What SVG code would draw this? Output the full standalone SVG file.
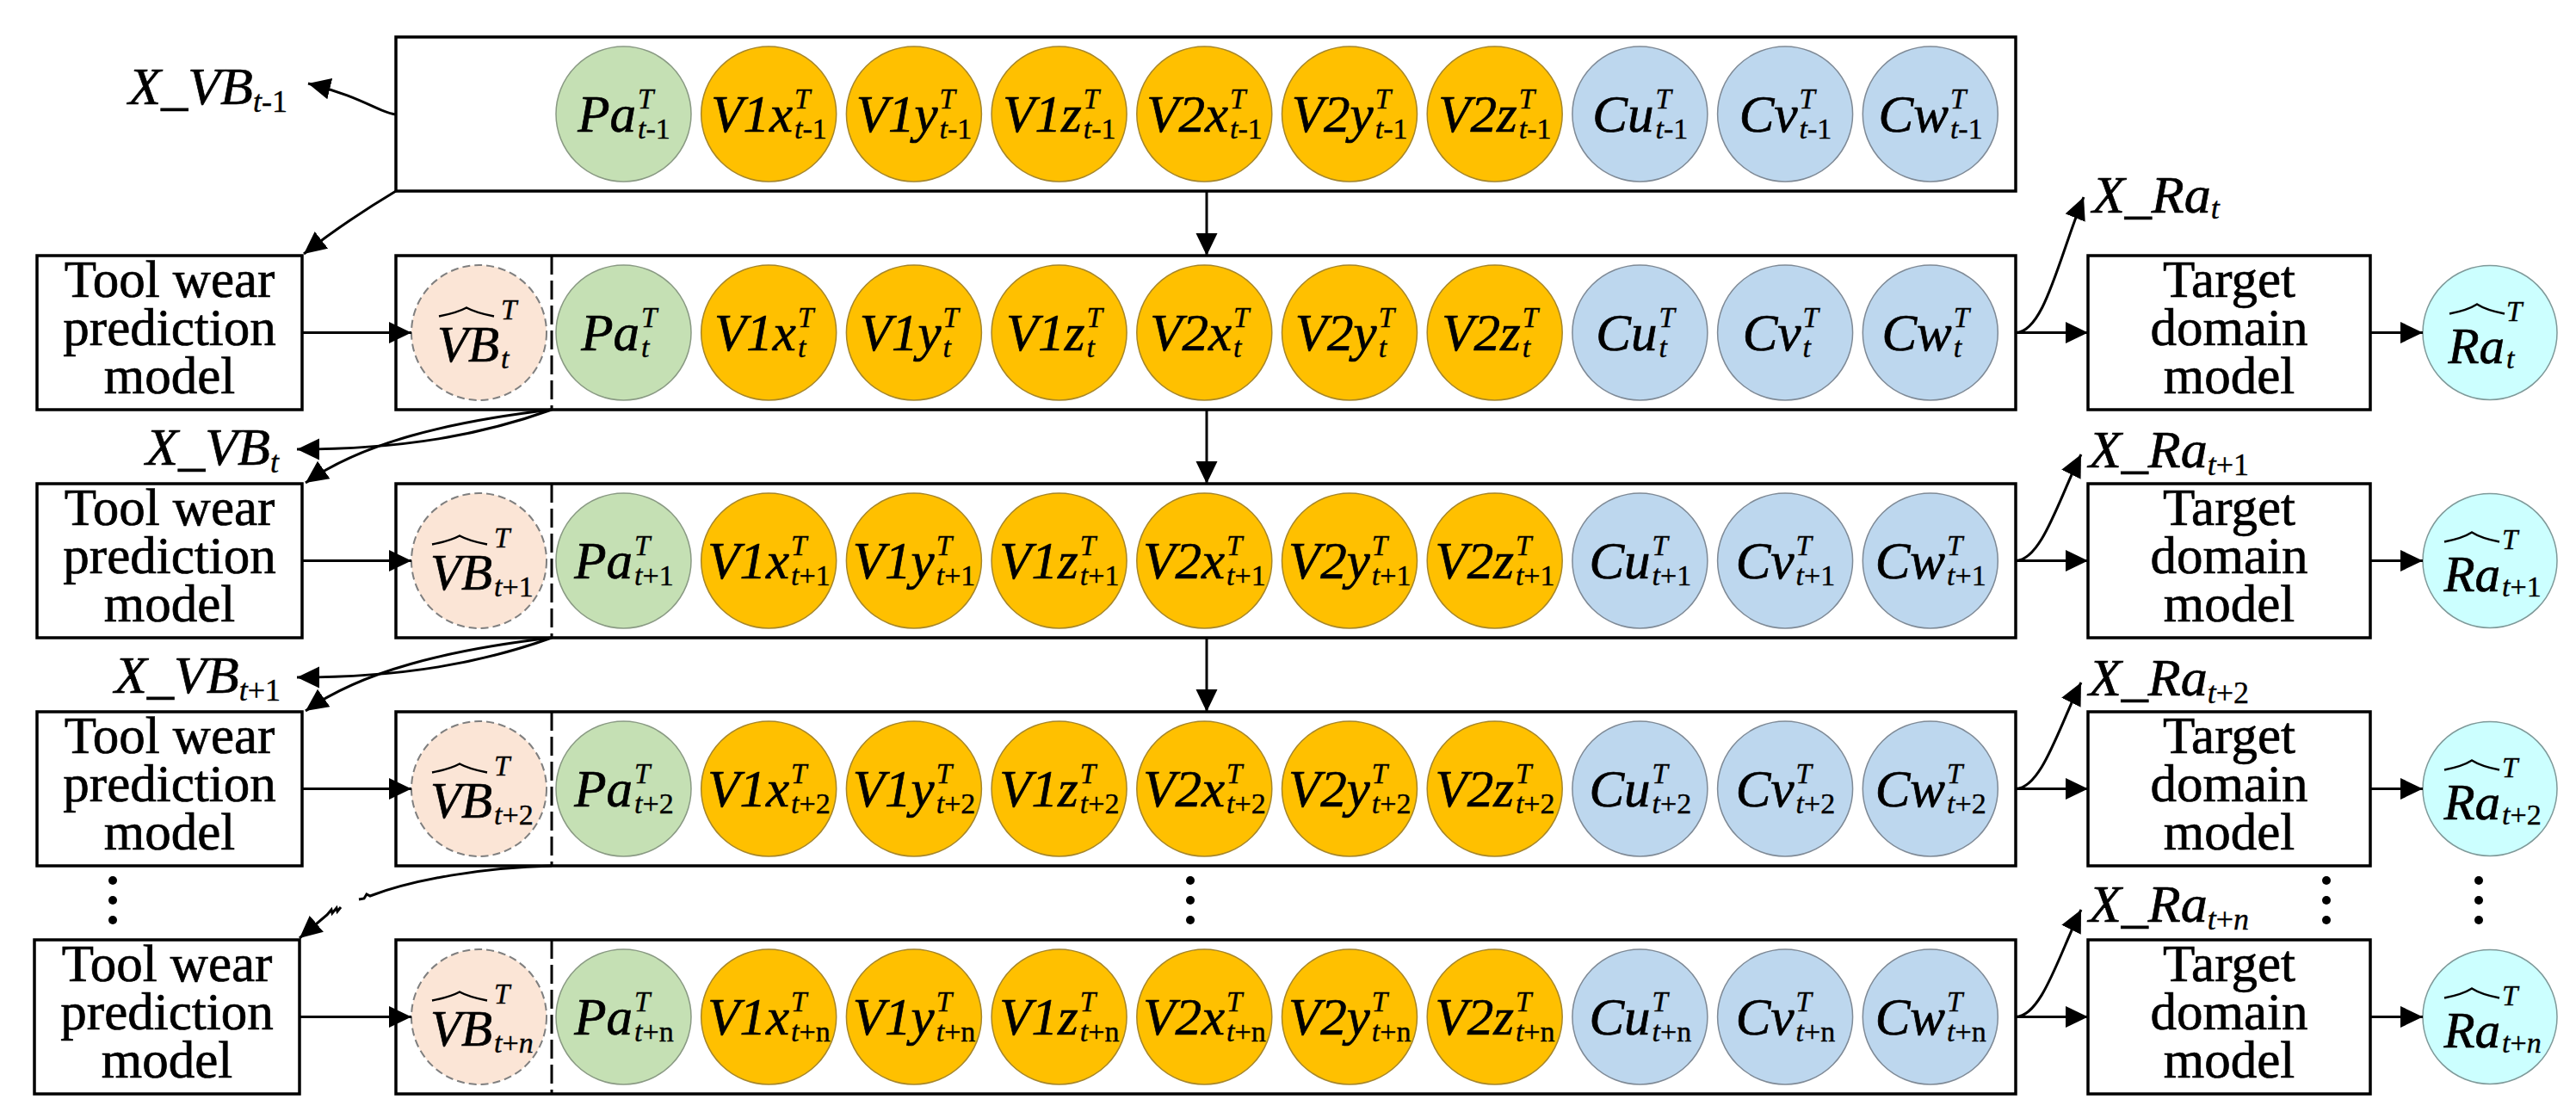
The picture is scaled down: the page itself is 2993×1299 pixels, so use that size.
<svg xmlns="http://www.w3.org/2000/svg" width="2993" height="1299" viewBox="0 0 2993 1299" font-family="Liberation Serif, serif">
<defs>
<marker id="ah" markerUnits="userSpaceOnUse" markerWidth="28" markerHeight="26" refX="26" refY="12.5" orient="auto">
<path d="M0,0 L26,12.5 L0,25 Z" fill="#000"/>
</marker>
</defs>
<style>
text{font-family:'Liberation Serif',serif;fill:#000;stroke:#000;stroke-width:0.7}
.row,.box{fill:#fff;stroke:#000;stroke-width:3.5}
.dv{stroke:#000;stroke-width:3;stroke-dasharray:22 7}
.g{fill:#C5E0B4;stroke:#8A9A84;stroke-width:1.5}
.o{fill:#FFC000;stroke:#A6862A;stroke-width:1.5}
.b{fill:#BDD7EE;stroke:#7F8A96;stroke-width:1.5}
.p{fill:#FBE5D6;stroke:#7F7F7F;stroke-width:2;stroke-dasharray:9 5}
.c{fill:#CCFFFF;stroke:#7F9999;stroke-width:1.5}
.m{font-style:italic;font-size:61px;text-anchor:end}
.h{font-style:italic;font-size:59px;text-anchor:end}
.sp{font-style:italic;font-size:33px;stroke-width:0.4}
.s{font-style:italic;font-size:34px;stroke-width:0.4}
.u{font-style:normal}
.t{font-size:61px;text-anchor:middle}
.lb{font-style:italic;font-size:62px}
.lbs{font-size:36px;stroke-width:0.4}
.ln{fill:none;stroke:#000;stroke-width:3}
.ar{fill:none;stroke:#000;stroke-width:3;marker-end:url(#ah)}
.hat{fill:none;stroke:#000;stroke-width:2.5}
.dot{fill:#000}
</style>
<rect width="2993" height="1299" fill="#fff"/>

<g id="row_tm1" transform="translate(0,132.5)">
<rect class="row" x="460" y="-89.5" width="1882" height="179"/>
<g id="pa_tm1"><circle class="g" cx="724.5" r="78.5"/><text class="m" x="739" y="20">Pa</text><text class="sp" x="741" y="-7">T</text><text class="s" x="741" y="28">t<tspan class="u">-1</tspan></text></g>
<g id="v1x_tm1"><circle class="o" cx="893.2" r="78.5"/><text class="m" x="921" y="20">V1x</text><text class="sp" x="923" y="-7">T</text><text class="s" x="923" y="28">t<tspan class="u">-1</tspan></text></g>
<g id="v1y_tm1"><circle class="o" cx="1061.9" r="78.5"/><text class="m" x="1089.6" y="20">V1y</text><text class="sp" x="1091.6" y="-7">T</text><text class="s" x="1091.6" y="28">t<tspan class="u">-1</tspan></text></g>
<g id="v1z_tm1"><circle class="o" cx="1230.6" r="78.5"/><text class="m" x="1256.7" y="20">V1z</text><text class="sp" x="1258.7" y="-7">T</text><text class="s" x="1258.7" y="28">t<tspan class="u">-1</tspan></text></g>
<g id="v2x_tm1"><circle class="o" cx="1399.3" r="78.5"/><text class="m" x="1427" y="20">V2x</text><text class="sp" x="1429" y="-7">T</text><text class="s" x="1429" y="28">t<tspan class="u">-1</tspan></text></g>
<g id="v2y_tm1"><circle class="o" cx="1568" r="78.5"/><text class="m" x="1595.7" y="20">V2y</text><text class="sp" x="1597.7" y="-7">T</text><text class="s" x="1597.7" y="28">t<tspan class="u">-1</tspan></text></g>
<g id="v2z_tm1"><circle class="o" cx="1736.7" r="78.5"/><text class="m" x="1762.8" y="20">V2z</text><text class="sp" x="1764.8" y="-7">T</text><text class="s" x="1764.8" y="28">t<tspan class="u">-1</tspan></text></g>
<g id="cu_tm1"><circle class="b" cx="1905.4" r="78.5"/><text class="m" x="1921.5" y="20">Cu</text><text class="sp" x="1923.5" y="-7">T</text><text class="s" x="1923.5" y="28">t<tspan class="u">-1</tspan></text></g>
<g id="cv_tm1"><circle class="b" cx="2074.1" r="78.5"/><text class="m" x="2088.5" y="20">Cv</text><text class="sp" x="2090.5" y="-7">T</text><text class="s" x="2090.5" y="28">t<tspan class="u">-1</tspan></text></g>
<g id="cw_tm1"><circle class="b" cx="2242.8" r="78.5"/><text class="m" x="2263.9" y="20">Cw</text><text class="sp" x="2265.9" y="-7">T</text><text class="s" x="2265.9" y="28">t<tspan class="u">-1</tspan></text></g>
</g>

<g id="row_t" transform="translate(0,386.5)">
<rect class="row" x="460" y="-89.5" width="1882" height="179"/>
<line class="dv" x1="641" y1="-89.5" x2="641" y2="89.5"/>
<g id="vb_t"><circle class="p" cx="556.5" r="78.5"/><path class="hat" d="M510,-19 Q531,-23 542,-29 Q553,-23 574,-19"/><text class="h" x="580" y="33">VB</text><text class="sp" x="582" y="-16">T</text><text class="s" x="582" y="41">t</text></g>
<g id="pa_t"><circle class="g" cx="724.5" r="78.5"/><text class="m" x="742.9" y="20">Pa</text><text class="sp" x="744.9" y="-7">T</text><text class="s" x="744.9" y="28">t</text></g>
<g id="v1x_t"><circle class="o" cx="893.2" r="78.5"/><text class="m" x="924.9" y="20">V1x</text><text class="sp" x="926.9" y="-7">T</text><text class="s" x="926.9" y="28">t</text></g>
<g id="v1y_t"><circle class="o" cx="1061.9" r="78.5"/><text class="m" x="1093.6" y="20">V1y</text><text class="sp" x="1095.6" y="-7">T</text><text class="s" x="1095.6" y="28">t</text></g>
<g id="v1z_t"><circle class="o" cx="1230.6" r="78.5"/><text class="m" x="1260.6" y="20">V1z</text><text class="sp" x="1262.6" y="-7">T</text><text class="s" x="1262.6" y="28">t</text></g>
<g id="v2x_t"><circle class="o" cx="1399.3" r="78.5"/><text class="m" x="1431" y="20">V2x</text><text class="sp" x="1433" y="-7">T</text><text class="s" x="1433" y="28">t</text></g>
<g id="v2y_t"><circle class="o" cx="1568" r="78.5"/><text class="m" x="1599.7" y="20">V2y</text><text class="sp" x="1601.7" y="-7">T</text><text class="s" x="1601.7" y="28">t</text></g>
<g id="v2z_t"><circle class="o" cx="1736.7" r="78.5"/><text class="m" x="1766.7" y="20">V2z</text><text class="sp" x="1768.7" y="-7">T</text><text class="s" x="1768.7" y="28">t</text></g>
<g id="cu_t"><circle class="b" cx="1905.4" r="78.5"/><text class="m" x="1925.4" y="20">Cu</text><text class="sp" x="1927.4" y="-7">T</text><text class="s" x="1927.4" y="28">t</text></g>
<g id="cv_t"><circle class="b" cx="2074.1" r="78.5"/><text class="m" x="2092.5" y="20">Cv</text><text class="sp" x="2094.5" y="-7">T</text><text class="s" x="2094.5" y="28">t</text></g>
<g id="cw_t"><circle class="b" cx="2242.8" r="78.5"/><text class="m" x="2267.8" y="20">Cw</text><text class="sp" x="2269.8" y="-7">T</text><text class="s" x="2269.8" y="28">t</text></g>
</g>

<g id="row_t1" transform="translate(0,651.5)">
<rect class="row" x="460" y="-89.5" width="1882" height="179"/>
<line class="dv" x1="641" y1="-89.5" x2="641" y2="89.5"/>
<g id="vb_t1"><circle class="p" cx="556.5" r="78.5"/><path class="hat" d="M502,-19 Q523,-23 534,-29 Q545,-23 566,-19"/><text class="h" x="572" y="33">VB</text><text class="sp" x="574" y="-16">T</text><text class="s" x="574" y="41">t<tspan class="u">+1</tspan></text></g>
<g id="pa_t1"><circle class="g" cx="724.5" r="78.5"/><text class="m" x="735" y="20">Pa</text><text class="sp" x="737" y="-7">T</text><text class="s" x="737" y="28">t<tspan class="u">+1</tspan></text></g>
<g id="v1x_t1"><circle class="o" cx="893.2" r="78.5"/><text class="m" x="917" y="20">V1x</text><text class="sp" x="919" y="-7">T</text><text class="s" x="919" y="28">t<tspan class="u">+1</tspan></text></g>
<g id="v1y_t1"><circle class="o" cx="1061.9" r="78.5"/><text class="m" x="1085.7" y="20">V1y</text><text class="sp" x="1087.7" y="-7">T</text><text class="s" x="1087.7" y="28">t<tspan class="u">+1</tspan></text></g>
<g id="v1z_t1"><circle class="o" cx="1230.6" r="78.5"/><text class="m" x="1252.8" y="20">V1z</text><text class="sp" x="1254.8" y="-7">T</text><text class="s" x="1254.8" y="28">t<tspan class="u">+1</tspan></text></g>
<g id="v2x_t1"><circle class="o" cx="1399.3" r="78.5"/><text class="m" x="1423.1" y="20">V2x</text><text class="sp" x="1425.1" y="-7">T</text><text class="s" x="1425.1" y="28">t<tspan class="u">+1</tspan></text></g>
<g id="v2y_t1"><circle class="o" cx="1568" r="78.5"/><text class="m" x="1591.8" y="20">V2y</text><text class="sp" x="1593.8" y="-7">T</text><text class="s" x="1593.8" y="28">t<tspan class="u">+1</tspan></text></g>
<g id="v2z_t1"><circle class="o" cx="1736.7" r="78.5"/><text class="m" x="1758.9" y="20">V2z</text><text class="sp" x="1760.9" y="-7">T</text><text class="s" x="1760.9" y="28">t<tspan class="u">+1</tspan></text></g>
<g id="cu_t1"><circle class="b" cx="1905.4" r="78.5"/><text class="m" x="1917.6" y="20">Cu</text><text class="sp" x="1919.6" y="-7">T</text><text class="s" x="1919.6" y="28">t<tspan class="u">+1</tspan></text></g>
<g id="cv_t1"><circle class="b" cx="2074.1" r="78.5"/><text class="m" x="2084.6" y="20">Cv</text><text class="sp" x="2086.6" y="-7">T</text><text class="s" x="2086.6" y="28">t<tspan class="u">+1</tspan></text></g>
<g id="cw_t1"><circle class="b" cx="2242.8" r="78.5"/><text class="m" x="2260" y="20">Cw</text><text class="sp" x="2262" y="-7">T</text><text class="s" x="2262" y="28">t<tspan class="u">+1</tspan></text></g>
</g>

<g id="row_t2" transform="translate(0,916.5)">
<rect class="row" x="460" y="-89.5" width="1882" height="179"/>
<line class="dv" x1="641" y1="-89.5" x2="641" y2="89.5"/>
<g id="vb_t2"><circle class="p" cx="556.5" r="78.5"/><path class="hat" d="M502,-19 Q523,-23 534,-29 Q545,-23 566,-19"/><text class="h" x="572" y="33">VB</text><text class="sp" x="574" y="-16">T</text><text class="s" x="574" y="41">t<tspan class="u">+2</tspan></text></g>
<g id="pa_t2"><circle class="g" cx="724.5" r="78.5"/><text class="m" x="735" y="20">Pa</text><text class="sp" x="737" y="-7">T</text><text class="s" x="737" y="28">t<tspan class="u">+2</tspan></text></g>
<g id="v1x_t2"><circle class="o" cx="893.2" r="78.5"/><text class="m" x="917" y="20">V1x</text><text class="sp" x="919" y="-7">T</text><text class="s" x="919" y="28">t<tspan class="u">+2</tspan></text></g>
<g id="v1y_t2"><circle class="o" cx="1061.9" r="78.5"/><text class="m" x="1085.7" y="20">V1y</text><text class="sp" x="1087.7" y="-7">T</text><text class="s" x="1087.7" y="28">t<tspan class="u">+2</tspan></text></g>
<g id="v1z_t2"><circle class="o" cx="1230.6" r="78.5"/><text class="m" x="1252.8" y="20">V1z</text><text class="sp" x="1254.8" y="-7">T</text><text class="s" x="1254.8" y="28">t<tspan class="u">+2</tspan></text></g>
<g id="v2x_t2"><circle class="o" cx="1399.3" r="78.5"/><text class="m" x="1423.1" y="20">V2x</text><text class="sp" x="1425.1" y="-7">T</text><text class="s" x="1425.1" y="28">t<tspan class="u">+2</tspan></text></g>
<g id="v2y_t2"><circle class="o" cx="1568" r="78.5"/><text class="m" x="1591.8" y="20">V2y</text><text class="sp" x="1593.8" y="-7">T</text><text class="s" x="1593.8" y="28">t<tspan class="u">+2</tspan></text></g>
<g id="v2z_t2"><circle class="o" cx="1736.7" r="78.5"/><text class="m" x="1758.9" y="20">V2z</text><text class="sp" x="1760.9" y="-7">T</text><text class="s" x="1760.9" y="28">t<tspan class="u">+2</tspan></text></g>
<g id="cu_t2"><circle class="b" cx="1905.4" r="78.5"/><text class="m" x="1917.6" y="20">Cu</text><text class="sp" x="1919.6" y="-7">T</text><text class="s" x="1919.6" y="28">t<tspan class="u">+2</tspan></text></g>
<g id="cv_t2"><circle class="b" cx="2074.1" r="78.5"/><text class="m" x="2084.6" y="20">Cv</text><text class="sp" x="2086.6" y="-7">T</text><text class="s" x="2086.6" y="28">t<tspan class="u">+2</tspan></text></g>
<g id="cw_t2"><circle class="b" cx="2242.8" r="78.5"/><text class="m" x="2260" y="20">Cw</text><text class="sp" x="2262" y="-7">T</text><text class="s" x="2262" y="28">t<tspan class="u">+2</tspan></text></g>
</g>

<g id="row_tn" transform="translate(0,1181.5)">
<rect class="row" x="460" y="-89.5" width="1882" height="179"/>
<line class="dv" x1="641" y1="-89.5" x2="641" y2="89.5"/>
<g id="vb_tn"><circle class="p" cx="556.5" r="78.5"/><path class="hat" d="M502,-19 Q523,-23 534,-29 Q545,-23 566,-19"/><text class="h" x="572" y="33">VB</text><text class="sp" x="574" y="-16">T</text><text class="s" x="574" y="41">t<tspan class="u">+</tspan>n</text></g>
<g id="pa_tn"><circle class="g" cx="724.5" r="78.5"/><text class="m" x="735" y="20">Pa</text><text class="sp" x="737" y="-7">T</text><text class="s" x="737" y="28">t<tspan class="u">+n</tspan></text></g>
<g id="v1x_tn"><circle class="o" cx="893.2" r="78.5"/><text class="m" x="917" y="20">V1x</text><text class="sp" x="919" y="-7">T</text><text class="s" x="919" y="28">t<tspan class="u">+n</tspan></text></g>
<g id="v1y_tn"><circle class="o" cx="1061.9" r="78.5"/><text class="m" x="1085.7" y="20">V1y</text><text class="sp" x="1087.7" y="-7">T</text><text class="s" x="1087.7" y="28">t<tspan class="u">+n</tspan></text></g>
<g id="v1z_tn"><circle class="o" cx="1230.6" r="78.5"/><text class="m" x="1252.8" y="20">V1z</text><text class="sp" x="1254.8" y="-7">T</text><text class="s" x="1254.8" y="28">t<tspan class="u">+n</tspan></text></g>
<g id="v2x_tn"><circle class="o" cx="1399.3" r="78.5"/><text class="m" x="1423.1" y="20">V2x</text><text class="sp" x="1425.1" y="-7">T</text><text class="s" x="1425.1" y="28">t<tspan class="u">+n</tspan></text></g>
<g id="v2y_tn"><circle class="o" cx="1568" r="78.5"/><text class="m" x="1591.8" y="20">V2y</text><text class="sp" x="1593.8" y="-7">T</text><text class="s" x="1593.8" y="28">t<tspan class="u">+n</tspan></text></g>
<g id="v2z_tn"><circle class="o" cx="1736.7" r="78.5"/><text class="m" x="1758.9" y="20">V2z</text><text class="sp" x="1760.9" y="-7">T</text><text class="s" x="1760.9" y="28">t<tspan class="u">+n</tspan></text></g>
<g id="cu_tn"><circle class="b" cx="1905.4" r="78.5"/><text class="m" x="1917.6" y="20">Cu</text><text class="sp" x="1919.6" y="-7">T</text><text class="s" x="1919.6" y="28">t<tspan class="u">+n</tspan></text></g>
<g id="cv_tn"><circle class="b" cx="2074.1" r="78.5"/><text class="m" x="2084.6" y="20">Cv</text><text class="sp" x="2086.6" y="-7">T</text><text class="s" x="2086.6" y="28">t<tspan class="u">+n</tspan></text></g>
<g id="cw_tn"><circle class="b" cx="2242.8" r="78.5"/><text class="m" x="2260" y="20">Cw</text><text class="sp" x="2262" y="-7">T</text><text class="s" x="2262" y="28">t<tspan class="u">+n</tspan></text></g>
</g>

<g id="twpm_t"><rect class="box" x="43" y="297" width="308" height="179"/><text class="t" x="197" y="344.5">Tool wear<tspan x="197" dy="56">prediction</tspan><tspan x="197" dy="56">model</tspan></text></g>
<g id="twpm_t1"><rect class="box" x="43" y="562" width="308" height="179"/><text class="t" x="197" y="609.5">Tool wear<tspan x="197" dy="56">prediction</tspan><tspan x="197" dy="56">model</tspan></text></g>
<g id="twpm_t2"><rect class="box" x="43" y="827" width="308" height="179"/><text class="t" x="197" y="874.5">Tool wear<tspan x="197" dy="56">prediction</tspan><tspan x="197" dy="56">model</tspan></text></g>
<g id="twpm_tn"><rect class="box" x="40" y="1092" width="308" height="179"/><text class="t" x="194" y="1139.5">Tool wear<tspan x="194" dy="56">prediction</tspan><tspan x="194" dy="56">model</tspan></text></g>

<g id="tdm_t"><rect class="box" x="2426" y="297" width="328" height="179"/><text class="t" x="2590" y="344.5">Target<tspan x="2590" dy="56">domain</tspan><tspan x="2590" dy="56">model</tspan></text></g>
<g id="tdm_t1"><rect class="box" x="2426" y="562" width="328" height="179"/><text class="t" x="2590" y="609.5">Target<tspan x="2590" dy="56">domain</tspan><tspan x="2590" dy="56">model</tspan></text></g>
<g id="tdm_t2"><rect class="box" x="2426" y="827" width="328" height="179"/><text class="t" x="2590" y="874.5">Target<tspan x="2590" dy="56">domain</tspan><tspan x="2590" dy="56">model</tspan></text></g>
<g id="tdm_tn"><rect class="box" x="2426" y="1092" width="328" height="179"/><text class="t" x="2590" y="1139.5">Target<tspan x="2590" dy="56">domain</tspan><tspan x="2590" dy="56">model</tspan></text></g>

<g id="ra_t" transform="translate(0,386.5)"><circle class="c" cx="2893" r="78"/><path class="hat" d="M2846,-22 Q2867,-26 2878,-33 Q2889,-26 2910,-22"/><text class="h" x="2910" y="35">Ra</text><text class="sp" x="2912" y="-14">T</text><text class="s" x="2912" y="41">t</text></g>
<g id="ra_t1" transform="translate(0,651.5)"><circle class="c" cx="2893" r="78"/><path class="hat" d="M2840,-22 Q2861,-26 2872,-33 Q2883,-26 2904,-22"/><text class="h" x="2905" y="35">Ra</text><text class="sp" x="2907" y="-14">T</text><text class="s" x="2907" y="41">t<tspan class="u">+1</tspan></text></g>
<g id="ra_t2" transform="translate(0,916.5)"><circle class="c" cx="2893" r="78"/><path class="hat" d="M2840,-22 Q2861,-26 2872,-33 Q2883,-26 2904,-22"/><text class="h" x="2905" y="35">Ra</text><text class="sp" x="2907" y="-14">T</text><text class="s" x="2907" y="41">t<tspan class="u">+2</tspan></text></g>
<g id="ra_tn" transform="translate(0,1181.5)"><circle class="c" cx="2893" r="78"/><path class="hat" d="M2840,-22 Q2861,-26 2872,-33 Q2883,-26 2904,-22"/><text class="h" x="2905" y="35">Ra</text><text class="sp" x="2907" y="-14">T</text><text class="s" x="2907" y="41">t<tspan class="u">+</tspan>n</text></g>

<g id="labels">
<text class="lb" x="334" y="121" text-anchor="end">X_VB<tspan class="lbs" dy="9">t</tspan><tspan class="lbs u">-1</tspan></text>
<text class="lb" x="324" y="540" text-anchor="end">X_VB<tspan class="lbs" dy="9">t</tspan></text>
<text class="lb" x="326" y="805" text-anchor="end">X_VB<tspan class="lbs" dy="9">t</tspan><tspan class="lbs u">+1</tspan></text>
<text class="lb" x="2431" y="247">X_Ra<tspan class="lbs" dy="7">t</tspan></text>
<text class="lb" x="2427" y="543">X_Ra<tspan class="lbs" dy="9">t</tspan><tspan class="lbs u">+1</tspan></text>
<text class="lb" x="2427" y="808">X_Ra<tspan class="lbs" dy="9">t</tspan><tspan class="lbs u">+2</tspan></text>
<text class="lb" x="2427" y="1071">X_Ra<tspan class="lbs" dy="9">t</tspan><tspan class="lbs u">+</tspan><tspan class="lbs">n</tspan></text>
</g>

<g id="ellipses">
<circle class="dot" cx="131" cy="1023" r="5"/><circle class="dot" cx="131" cy="1046" r="5"/><circle class="dot" cx="131" cy="1069" r="5"/>
<circle class="dot" cx="1383" cy="1023" r="5"/><circle class="dot" cx="1383" cy="1046" r="5"/><circle class="dot" cx="1383" cy="1069" r="5"/>
<circle class="dot" cx="2703" cy="1023" r="5"/><circle class="dot" cx="2703" cy="1046" r="5"/><circle class="dot" cx="2703" cy="1069" r="5"/>
<circle class="dot" cx="2880" cy="1023" r="5"/><circle class="dot" cx="2880" cy="1046" r="5"/><circle class="dot" cx="2880" cy="1069" r="5"/>
</g>

<g id="connectors">
<path class="ar" d="M460,133 C445,133 420,112 358,97"/>
<path class="ar" d="M460,222 C430,240 395,262 353,295"/>
<path class="ar" d="M641,476 C560,505 470,522 345,522"/>
<path class="ar" d="M641,476 C520,490 420,515 355,561"/>
<path class="ar" d="M641,741 C560,770 470,787 345,787"/>
<path class="ar" d="M641,741 C520,755 420,780 355,826"/>
<path class="ln" d="M641,1006 C560,1008 480,1022 430,1041 l-4,-2 l-3,5 l-6,1"/>
<path class="ar" d="M396,1054 l-4,5 l-1,-4 l-5,6 l-1,-4 l-5,6 L348,1090"/>
<path class="ar" d="M1402,222 L1402,297"/>
<path class="ar" d="M1402,476 L1402,562"/>
<path class="ar" d="M1402,741 L1402,827"/>
<path class="ar" d="M351,386.5 L478,386.5"/>
<path class="ar" d="M351,651.5 L478,651.5"/>
<path class="ar" d="M351,916.5 L478,916.5"/>
<path class="ar" d="M348,1181.5 L478,1181.5"/>
<path class="ar" d="M2342,386.5 L2426,386.5"/>
<path class="ar" d="M2342,651.5 L2426,651.5"/>
<path class="ar" d="M2342,916.5 L2426,916.5"/>
<path class="ar" d="M2342,1181.5 L2426,1181.5"/>
<path class="ar" d="M2754,386.5 L2815,386.5"/>
<path class="ar" d="M2754,651.5 L2815,651.5"/>
<path class="ar" d="M2754,916.5 L2815,916.5"/>
<path class="ar" d="M2754,1181.5 L2815,1181.5"/>
<path class="ar" d="M2342,386.5 C2375,386 2392,300 2421,229"/>
<path class="ar" d="M2342,651.5 C2372,651 2392,580 2418,528"/>
<path class="ar" d="M2342,916.5 C2372,916 2392,845 2418,793"/>
<path class="ar" d="M2342,1181.5 C2372,1181 2392,1110 2418,1057"/>
</g>
</svg>
